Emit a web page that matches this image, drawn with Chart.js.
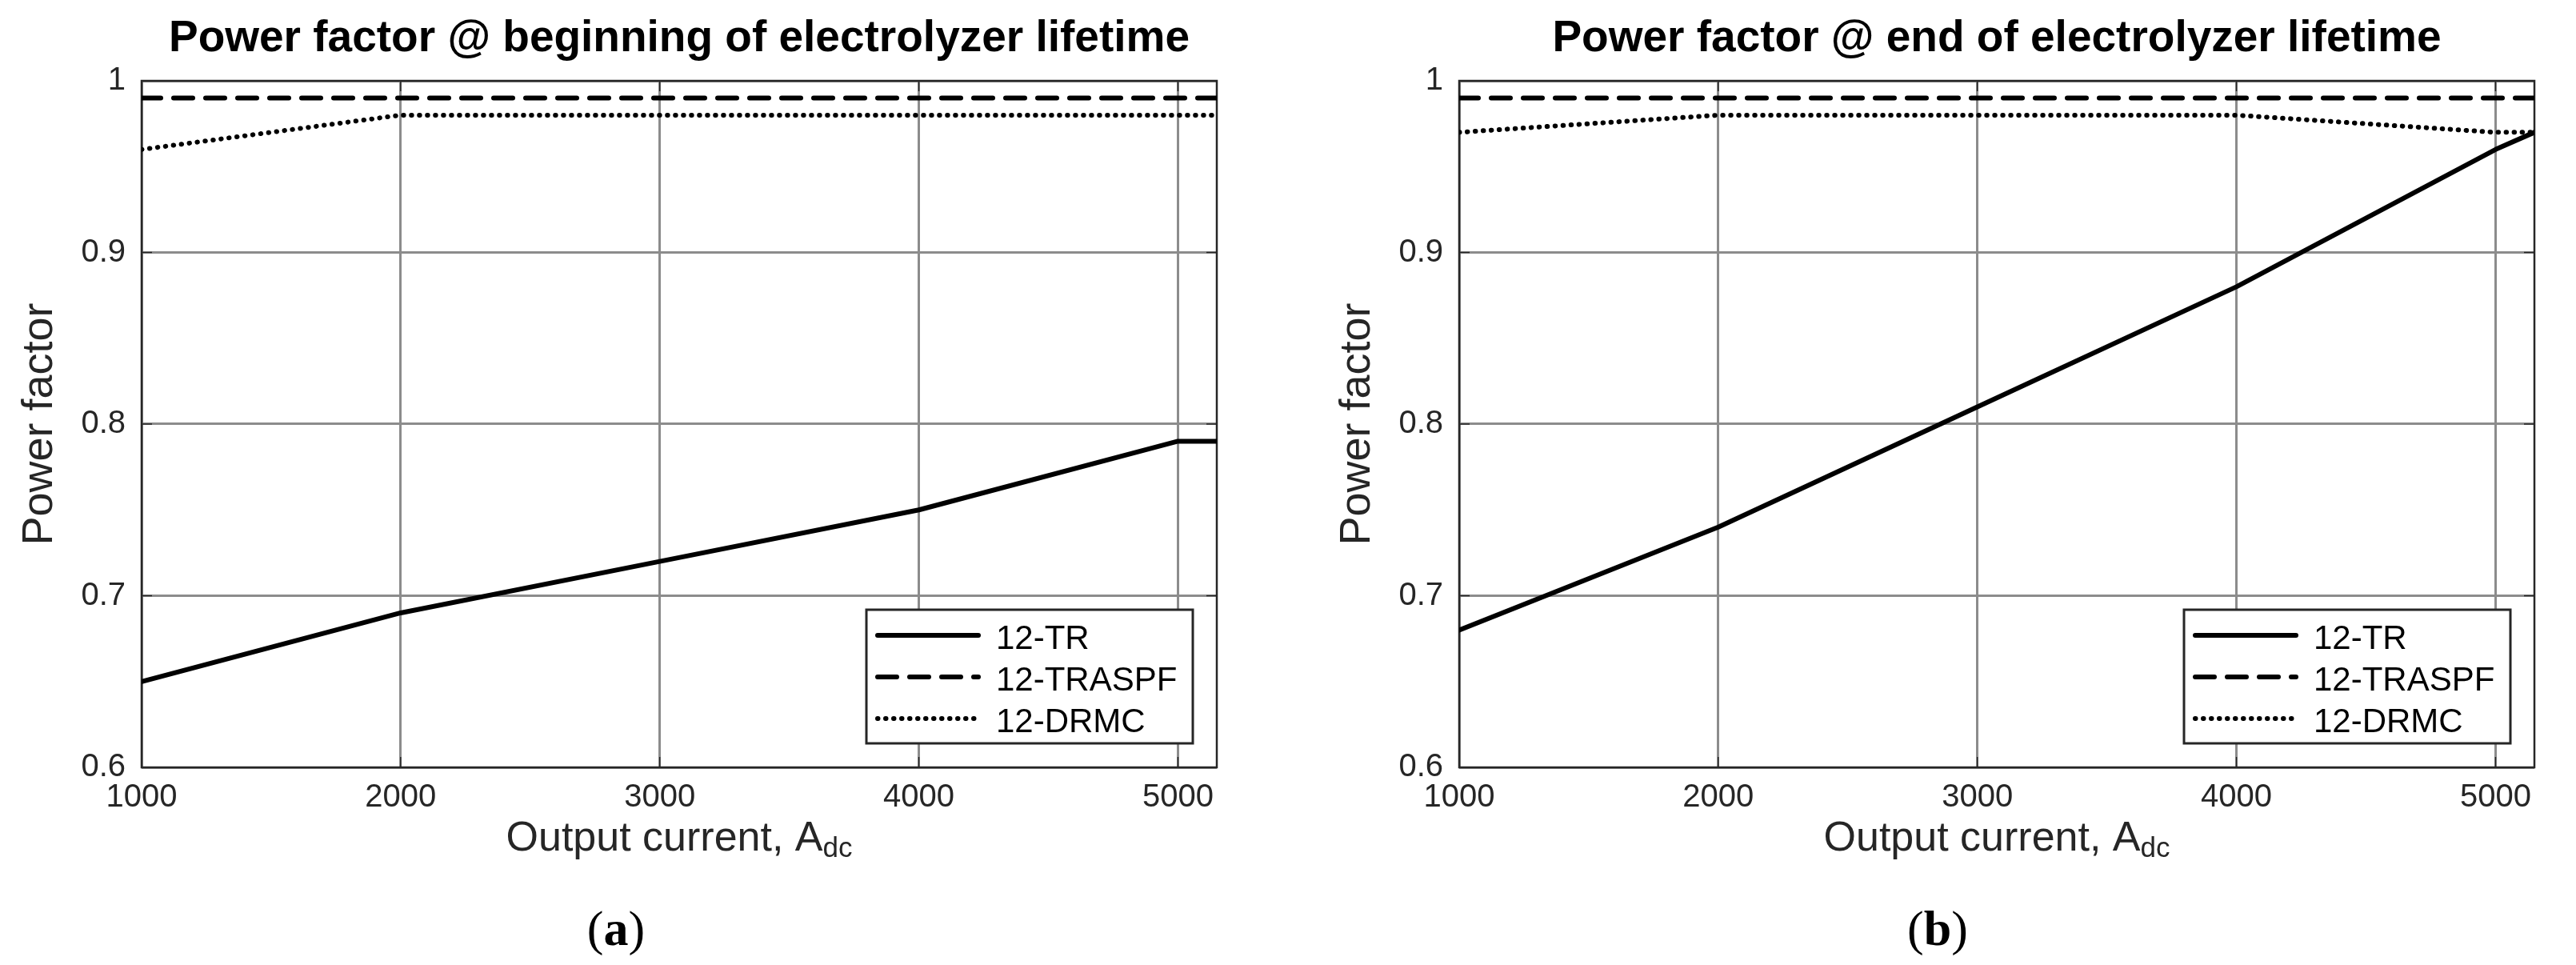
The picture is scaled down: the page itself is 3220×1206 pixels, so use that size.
<!DOCTYPE html>
<html>
<head>
<meta charset="utf-8">
<title>Power factor</title>
<script src="https://cdn.jsdelivr.net/npm/chart.js@4.4.0/dist/chart.umd.min.js"></script>
<style>
  body { margin: 0; background: #fff; width: 3220px; height: 1206px; overflow: hidden; position: relative; }
  .panel { position: absolute; top: 0; width: 1560px; height: 1100px; }
  .caption { position: absolute; top: 1129px; width: 300px; text-align: center;
             font-family: "Liberation Serif", "DejaVu Serif", serif; font-size: 62px; line-height: 62px; color: #000; }
</style>
</head>
<body>
<div class="panel" style="left:0px"><canvas id="beginChart"></canvas></div>
<div class="panel" style="left:1647px"><canvas id="endChart"></canvas></div>
<div class="caption" style="left:620px">(<b>a</b>)</div>
<div class="caption" style="left:2272px">(<b>b</b>)</div>

<script>
// Output current, A dc
const currents = [1000, 2000, 3000, 4000, 5000, 5150];

// Beginning of electrolyzer lifetime
const beginTR = [0.65, 0.69, 0.72, 0.75, 0.79, 0.79];
const beginTRASPF = [0.99, 0.99, 0.99, 0.99, 0.99, 0.99];
const beginDRMC = [0.96, 0.98, 0.98, 0.98, 0.98, 0.98];

// End of electrolyzer lifetime
const endTR = [0.68, 0.74, 0.81, 0.88, 0.96, 0.97];
const endTRASPF = [0.99, 0.99, 0.99, 0.99, 0.99, 0.99];
const endDRMC = [0.97, 0.98, 0.98, 0.98, 0.97, 0.97];

const seriesNames = ['12-TR', '12-TRASPF', '12-DRMC'];
const xTicks = [1000, 2000, 3000, 4000, 5000];
const yTicks = [0.6, 0.7, 0.8, 0.9, 1];
const xMin = 1000, xMax = 5150, yMin = 0.6, yMax = 1;

const xTitleMain = 'Output current, A';
const xTitleSub = 'dc';
const yTitle = 'Power factor';

const FONT = '"Liberation Sans", Arial, Helvetica, sans-serif';
const AXIS_COLOR = '#262626';
Chart.defaults.font.family = FONT;

function toPoints(ys) {
    return currents.map((x, i) => ({ x: x, y: ys[i] }));
}

// Line styles for the three series
const styles = [
    { borderWidth: 6, borderDash: [], borderCapStyle: 'round' },
    { borderWidth: 6, borderDash: [24, 16], borderCapStyle: 'round' },
    { borderWidth: 6, borderDash: [0.5, 9.5], borderCapStyle: 'round' },
];

// Axes box with inward ticks
const boxPlugin = {
    id: 'box',
    beforeDatasetsDraw(chart) {
        const { ctx, chartArea: a, scales } = chart;
        ctx.save();
        ctx.strokeStyle = AXIS_COLOR;
        ctx.lineWidth = 1.5;
        ctx.beginPath();
        xTicks.forEach(v => {
            const px = scales.x.getPixelForValue(v);
            ctx.moveTo(px, a.bottom); ctx.lineTo(px, a.bottom - 13);
            ctx.moveTo(px, a.top); ctx.lineTo(px, a.top + 13);
        });
        yTicks.forEach(v => {
            const py = scales.y.getPixelForValue(v);
            ctx.moveTo(a.left, py); ctx.lineTo(a.left + 13, py);
            ctx.moveTo(a.right, py); ctx.lineTo(a.right - 13, py);
        });
        ctx.stroke();
        ctx.lineWidth = 2.5;
        ctx.strokeRect(a.left, a.top, a.right - a.left, a.bottom - a.top);
        ctx.restore();
    }
};

// X axis title with subscript
const xTitlePlugin = {
    id: 'xTitle',
    afterDraw(chart) {
        const { ctx, chartArea: a } = chart;
        ctx.save();
        ctx.fillStyle = AXIS_COLOR;
        ctx.textAlign = 'left';
        ctx.textBaseline = 'alphabetic';
        ctx.font = '52px ' + FONT;
        const w1 = ctx.measureText(xTitleMain).width;
        ctx.font = '35px ' + FONT;
        const w2 = ctx.measureText(xTitleSub).width;
        const x0 = (a.left + a.right) / 2 - (w1 + w2) / 2;
        const y0 = a.bottom + 104;
        ctx.font = '52px ' + FONT;
        ctx.fillText(xTitleMain, x0, y0);
        ctx.font = '35px ' + FONT;
        ctx.fillText(xTitleSub, x0 + w1, y0 + 8);
        ctx.restore();
    }
};

// Legend inside the lower right corner of the plot area
const boxLegendPlugin = {
    id: 'boxLegend',
    afterDraw(chart) {
        const { ctx, chartArea: a } = chart;
        const w = 408, h = 167;
        const left = a.right - 30 - w, top = a.bottom - 30 - h;
        ctx.save();
        ctx.fillStyle = '#fff';
        ctx.fillRect(left, top, w, h);
        ctx.strokeStyle = AXIS_COLOR;
        ctx.lineWidth = 3;
        ctx.strokeRect(left, top, w, h);
        chart.data.datasets.forEach((ds, i) => {
            const y = top + 32 + i * 52;
            ctx.beginPath();
            ctx.strokeStyle = '#000';
            ctx.lineWidth = ds.borderWidth;
            ctx.lineCap = ds.borderCapStyle;
            ctx.setLineDash(ds.borderDash);
            ctx.moveTo(left + 14, y);
            ctx.lineTo(left + 140, y);
            ctx.stroke();
            ctx.setLineDash([]);
            ctx.fillStyle = '#000';
            ctx.font = '42px ' + FONT;
            ctx.textBaseline = 'alphabetic';
            ctx.fillText(ds.label, left + 162, y + 17);
        });
        ctx.restore();
    }
};

function makeChart(id, title, seriesValues) {
    const ctx = document.getElementById(id).getContext('2d');
    return new Chart(ctx, {
        type: 'line',
        data: {
            datasets: seriesValues.map((vals, i) => Object.assign({
                label: seriesNames[i],
                data: toPoints(vals),
                borderColor: '#000',
                backgroundColor: '#000',
                pointRadius: 0,
                tension: 0,
                fill: false,
                borderJoinStyle: 'round',
            }, styles[i])),
        },
        options: {
            responsive: true,
            maintainAspectRatio: false,
            animation: false,
            layout: { padding: { top: 0, right: 39, bottom: 0, left: 0 } },
            plugins: {
                legend: { display: false },
                tooltip: { enabled: false },
                title: {
                    display: true,
                    text: title,
                    fullSize: false,
                    color: '#000',
                    font: { size: 55, weight: 'bold' },
                    padding: { top: 16, bottom: 19 },
                },
            },
            scales: {
                x: {
                    type: 'linear',
                    min: xMin,
                    max: xMax,
                    afterBuildTicks: s => { s.ticks = xTicks.map(v => ({ value: v })); },
                    afterFit: s => { s.height = 141; },
                    ticks: { color: AXIS_COLOR, font: { size: 40 }, padding: 14, maxRotation: 0, callback: v => String(v) },
                    grid: { color: '#8c8c8c', lineWidth: 3, drawTicks: false },
                    border: { display: false },
                },
                y: {
                    min: yMin,
                    max: yMax,
                    afterBuildTicks: s => { s.ticks = yTicks.map(v => ({ value: v })); },
                    afterFit: s => { s.width = 177; },
                    ticks: { color: AXIS_COLOR, font: { size: 40 }, padding: 20, callback: v => String(v) },
                    grid: { color: '#8c8c8c', lineWidth: 3, drawTicks: false },
                    border: { display: false },
                    title: {
                        display: true,
                        text: yTitle,
                        color: AXIS_COLOR,
                        font: { size: 54 },
                        padding: { top: 18, bottom: 0 },
                    },
                },
            },
        },
        plugins: [boxPlugin, xTitlePlugin, boxLegendPlugin],
    });
}

makeChart('beginChart', 'Power factor @ beginning of electrolyzer lifetime', [beginTR, beginTRASPF, beginDRMC]);
makeChart('endChart', 'Power factor @ end of electrolyzer lifetime', [endTR, endTRASPF, endDRMC]);
</script>
</body>
</html>
